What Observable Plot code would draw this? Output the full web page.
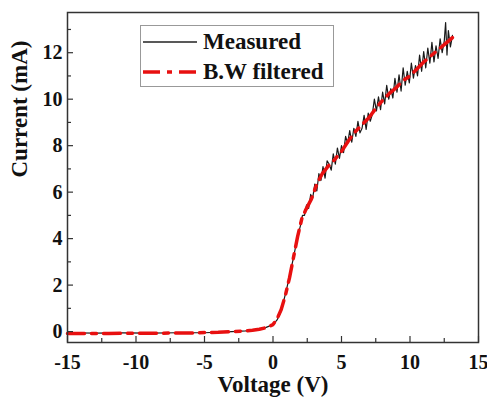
<!DOCTYPE html>
<html>
<head>
<meta charset="utf-8">
<script src="https://cdn.jsdelivr.net/npm/d3@7"></script>
<script src="https://cdn.jsdelivr.net/npm/@observablehq/plot@0.6"></script>
<style>
  body { margin: 0; background: #fff; }
  #wrap { position: relative; width: 487px; height: 408px; font-family: "Liberation Serif", "Times New Roman", serif; }
  #legend { position: absolute; left: 140px; top: 25px; width: 194px; height: 62px; border: 1px solid #999; background: #fff; box-sizing: border-box; }
  .row { position: absolute; left: 0; height: 28px; display: flex; align-items: center; }
  .row span { font-weight: bold; font-size: 23px; color: #111; margin-left: 4px; }
</style>
</head>
<body>
<div id="wrap">
  <div id="chart"></div>
  <div id="legend">
    <div class="row" style="top:2px;"><svg width="58" height="10"><line x1="2" y1="5" x2="56" y2="5" stroke="#222" stroke-width="1.3"/></svg><span>Measured</span></div>
    <div class="row" style="top:32px;"><svg width="58" height="10"><line x1="2" y1="5" x2="56" y2="5" stroke="#e81010" stroke-width="3.5" stroke-dasharray="17,7,5,7"/></svg><span>B.W filtered</span></div>
  </div>
</div>
<script>
// Butterworth-filtered curve
const filtV = [-15, -12, -9, -6, -4, -3, -2, -1.5, -1, -0.5, 0, 0.3, 0.6, 0.9, 1.2, 1.5, 1.8, 2.1, 2.4, 2.8, 3.2, 3.6, 4, 4.5, 5, 5.5, 6, 6.5, 7, 7.5, 8, 8.5, 9, 9.5, 10, 10.5, 11, 11.5, 12, 12.5, 13.1];
const filtI = [-0.08, -0.08, -0.07, -0.06, -0.03, 0.0, 0.03, 0.06, 0.1, 0.17, 0.3, 0.55, 0.95, 1.55, 2.3, 3.2, 4.1, 4.85, 5.25, 5.7, 6.35, 6.8, 7.1, 7.4, 7.75, 8.2, 8.6, 8.9, 9.2, 9.6, 9.95, 10.25, 10.5, 10.8, 11.0, 11.3, 11.6, 11.85, 12.1, 12.35, 12.65];

// Measured curve
const measV = [-15, -13, -11, -9, -7, -5, -3, -2, -1, -0.5, 0, 0.3, 0.6, 0.9, 1.2, 1.5, 1.8,
  2.0, 2.15, 2.3, 2.45, 2.6, 2.75, 2.9, 3.05, 3.2, 3.35, 3.5, 3.65, 3.8, 3.95, 4.1, 4.25, 4.4, 4.55, 4.7, 4.85,
  5.0, 5.15, 5.3, 5.45, 5.6, 5.75, 5.9, 6.05, 6.2, 6.35, 6.5, 6.65, 6.8, 6.95, 7.1, 7.25, 7.4, 7.55, 7.7, 7.85,
  8.0, 8.15, 8.3, 8.45, 8.6, 8.75, 8.9, 9.05, 9.2, 9.35, 9.5, 9.65, 9.8, 9.95, 10.1, 10.25, 10.4, 10.55, 10.7, 10.85,
  11.0, 11.15, 11.3, 11.45, 11.6, 11.75, 11.9, 12.05, 12.2, 12.35, 12.5, 12.6, 12.7, 12.8, 12.95, 13.1];
const measI = [-0.05, -0.07, -0.06, -0.07, -0.05, -0.05, 0.0, 0.03, 0.1, 0.18, 0.3, 0.5, 0.9, 1.6, 2.35, 3.2, 4.1,
  4.55, 5.0, 5.0, 5.45, 5.3, 5.9, 5.75, 6.35, 6.05, 6.8, 6.5, 7.1, 6.6, 7.35, 7.2, 6.95, 7.65, 7.2, 7.9, 7.45,
  8.0, 7.7, 8.4, 8.1, 8.65, 8.15, 8.75, 8.4, 9.05, 8.55, 8.75, 9.3, 8.7, 9.4, 9.05, 9.35, 10.0, 9.5, 10.1, 9.55,
  10.3, 9.8, 10.6, 10.0, 10.45, 10.05, 10.9, 10.3, 11.05, 10.35, 11.35, 10.6, 11.2, 10.7, 11.55, 10.9, 11.45, 11.0, 11.9, 11.2,
  12.05, 11.35, 12.2, 11.55, 12.45, 11.6, 12.3, 11.75, 12.6, 12.0, 12.5, 13.3, 11.9, 12.95, 12.25, 12.75];

const xTicks = [-15, -10, -5, 0, 5, 10, 15];
const xMinor = [-12.5, -7.5, -2.5, 2.5, 7.5, 12.5];
const yTicks = [0, 2, 4, 6, 8, 10, 12];
const yMinor = [1, 3, 5, 7, 9, 11, 13];

const filt = filtV.map((v, i) => ({v, c: filtI[i]}));
const meas = measV.map((v, i) => ({v, c: measI[i]}));

const W = 487, H = 408, mL = 67, mR = 9, mT = 12, mB = 66;
const plotW = W - mL - mR, plotH = H - mT - mB;
const axisColor = "#333";
const serif = "Liberation Serif";

const chart = Plot.plot({
  width: W,
  height: H,
  marginLeft: mL,
  marginRight: mR,
  marginTop: mT,
  marginBottom: mB,
  style: {fontFamily: serif, fontWeight: "bold", fontSize: "20px", color: "#111", background: "#fff"},
  x: {domain: [-15, 15]},
  y: {domain: [-0.47, 13.73]},
  marks: [
    Plot.line(meas, {x: "v", y: "c", stroke: "#1a1a1a", strokeWidth: 1.2}),
    Plot.line(filt, {x: "v", y: "c", stroke: "#e81010", strokeWidth: 3.5, strokeDasharray: "17,7,5,7"}),
    Plot.tickX(xTicks, {x: d => d, insetTop: plotH - 6, stroke: axisColor, strokeWidth: 1.2}),
    Plot.tickX(xMinor, {x: d => d, insetTop: plotH - 4, stroke: axisColor, strokeWidth: 1.2}),
    Plot.tickY(yTicks, {y: d => d, insetRight: plotW - 6, stroke: axisColor, strokeWidth: 1.2}),
    Plot.tickY(yMinor, {y: d => d, insetRight: plotW - 4, stroke: axisColor, strokeWidth: 1.2}),
    Plot.frame({stroke: axisColor, strokeWidth: 1.5}),
    Plot.axisX(xTicks, {tickSize: 0, tickPadding: 12, tickFormat: d => String(d), label: null, fontFamily: serif, fontWeight: "bold", fontSize: 20, fill: "#111"}),
    Plot.axisY(yTicks, {tickSize: 0, tickPadding: 5, tickFormat: d => String(d), label: null, fontFamily: serif, fontWeight: "bold", fontSize: 20, fill: "#111"}),
    Plot.text(["Voltage (V)"], {frameAnchor: "bottom", dy: 49, fontFamily: serif, fontSize: 23, fontWeight: "bold", fill: "#111"}),
    Plot.text(["Current (mA)"], {frameAnchor: "left", dx: -48, rotate: -90, fontFamily: serif, fontSize: 23, fontWeight: "bold", fill: "#111"})
  ]
});
document.getElementById("chart").appendChild(chart);
</script>
</body>
</html>
